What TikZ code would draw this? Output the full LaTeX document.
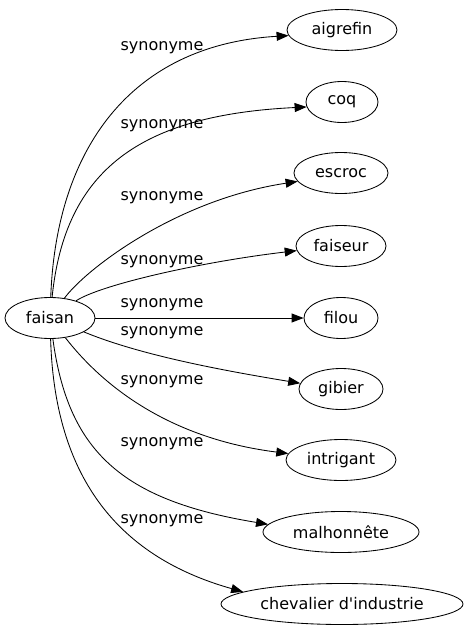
\documentclass[tikz,border=0pt]{standalone}
\usepackage{fontspec}
\setmainfont{DejaVu Sans}[Ligatures=TeXOff]
\usetikzlibrary{shapes.geometric,arrows.meta}
\tikzset{
  word/.style={ellipse,draw,line width=0.85pt,inner sep=0pt,minimum height=41pt,font=\fontsize{16}{19}\selectfont},
  rel/.style={font=\fontsize{16}{19}\selectfont,inner sep=0pt},
  edge/.style={draw,line width=0.85pt,-{Triangle[length=12pt,width=9pt]}}
}
\begin{document}
\begin{tikzpicture}[x=1pt,y=-1pt]
\useasboundingbox (0,0) rectangle (468,635);
\node[word,minimum width=90pt] (faisan) at (50,318) {faisan};
\node[word,minimum width=110pt] (aigrefin) at (342,30) {aigrefin};
\node[word,minimum width=72pt] (coq) at (342,102) {coq};
\node[word,minimum width=94pt] (escroc) at (341,173) {escroc};
\node[word,minimum width=90pt] (faiseur) at (341,246) {faiseur};
\node[word,minimum width=74pt] (filou) at (341,318) {filou};
\node[word,minimum width=84pt] (gibier) at (341,389) {gibier};
\node[word,minimum width=110pt] (intrigant) at (341,460) {intrigant};
\node[word,minimum width=156pt] (malhonnete) at (341,532) {malhonnête};
\node[word,minimum width=242pt] (chevalier) at (342,604) {chevalier d'industrie};

\node[rel] (l1) at (162,48) {synonyme};
\node[rel] (l2) at (162,126) {synonyme};
\node[rel] (l3) at (162,198) {synonyme};
\node[rel] (l4) at (162,262) {synonyme};
\node[rel] (l5) at (162,305) {synonyme};
\node[rel] (l6) at (162,333) {synonyme};
\node[rel] (l7) at (162,382) {synonyme};
\node[rel] (l8) at (162,444) {synonyme};
\node[rel] (l9) at (162,521) {synonyme};

\draw[edge] (faisan) .. controls (56,150) and (130,45) .. (aigrefin.186);
\draw[edge] (faisan) .. controls (65,170) and (140,115) .. (coq.188);
\draw[edge] (faisan) .. controls (85,270) and (175,200) .. (escroc.191);
\draw[edge] (faisan) .. controls (100,285) and (200,262) .. (faiseur.186);
\draw[edge] (faisan) -- (filou);
\draw[edge] (faisan) .. controls (140,355) and (220,370) .. (gibier.172);
\draw[edge] (faisan) .. controls (110,395) and (180,440) .. (intrigant.173);
\draw[edge] (faisan) .. controls (68,450) and (120,500) .. (malhonnete.174);
\draw[edge] (faisan) .. controls (55,490) and (130,560) .. (chevalier.173);
\end{tikzpicture}
\end{document}
